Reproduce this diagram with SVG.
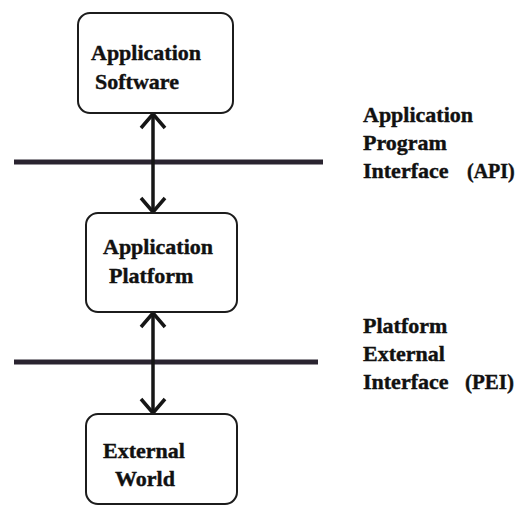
<svg xmlns="http://www.w3.org/2000/svg" width="517" height="507" viewBox="0 0 517 507">
<style>
  .box { fill: #ffffff; stroke: #1c1c1c; stroke-width: 2; }
  .t { font-family: "Liberation Serif", "Times New Roman", serif; font-weight: bold; font-size: 22px; fill: #111; stroke: #111; stroke-width: 0.4; }
  .bar { stroke: #2a2430; stroke-width: 5; }
  .conn { stroke: #161616; stroke-width: 3.5; fill: none; }
</style>
<defs>
  <marker id="chev" viewBox="0 0 30 30" refX="26" refY="15" markerWidth="30" markerHeight="30" markerUnits="userSpaceOnUse" orient="auto-start-reverse">
    <path d="M12,3 L26,15 L12,27" fill="none" stroke="#161616" stroke-width="3.5" stroke-linejoin="miter"/>
  </marker>
</defs>
<rect x="0" y="0" width="517" height="507" fill="#ffffff"/>

<g id="interfaces">
  <line class="bar" x1="14" y1="162" x2="323" y2="162"/>
  <line class="bar" x1="14" y1="362" x2="318" y2="362"/>
</g>

<g id="connectors">
  <line class="conn" x1="153" y1="114" x2="153" y2="212" marker-start="url(#chev)" marker-end="url(#chev)"/>
  <line class="conn" x1="153" y1="313" x2="153" y2="413" marker-start="url(#chev)" marker-end="url(#chev)"/>
</g>

<g id="app-software">
  <rect class="box" x="78" y="13" width="155" height="100" rx="12"/>
  <text class="t" x="91" y="60">Application</text>
  <text class="t" x="95" y="89">Software</text>
</g>

<g id="app-platform">
  <rect class="box" x="86" y="213" width="151" height="99" rx="12"/>
  <text class="t" x="103" y="254">Application</text>
  <text class="t" x="109" y="283">Platform</text>
</g>

<g id="external-world">
  <rect class="box" x="86" y="414" width="151" height="90" rx="12"/>
  <text class="t" x="103" y="458">External</text>
  <text class="t" x="115" y="486">World</text>
</g>

<g id="api-label">
  <text class="t" x="363" y="122">Application</text>
  <text class="t" x="363" y="150">Program</text>
  <text class="t" x="363" y="178">Interface</text>
  <text class="t" x="467" y="178" style="font-size:20px">(API)</text>
</g>

<g id="pei-label">
  <text class="t" x="363" y="333">Platform</text>
  <text class="t" x="363" y="361">External</text>
  <text class="t" x="363" y="389">Interface</text>
  <text class="t" x="465" y="389" style="font-size:21px">(PEI)</text>
</g>
</svg>
